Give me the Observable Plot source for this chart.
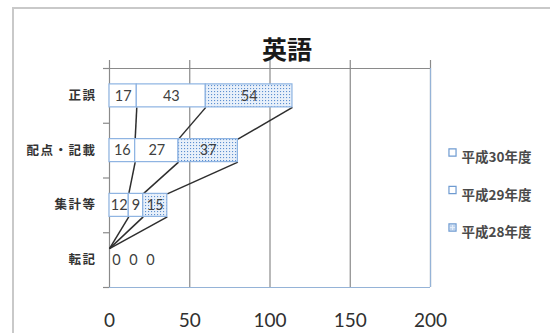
<!DOCTYPE html>
<html>
<head>
<meta charset="utf-8">
<script src="https://cdn.jsdelivr.net/npm/d3@7"></script>
<script src="https://cdn.jsdelivr.net/npm/@observablehq/plot@0.6"></script>
<style>
  body { margin: 0; background: #fff; }
  #wrap { position: relative; width: 550px; height: 333px; overflow: hidden; }
  #border { position: absolute; left: 12px; top: 7px; width: 580px; height: 380px; border: 2px solid #c9c9c9; box-sizing: border-box; }
  #chart { position: absolute; left: 0; top: 0; }
  g[aria-label="y-axis tick label"] text { letter-spacing: 1.5px; }
  g[aria-label="legend label"] text { letter-spacing: 1px; }
</style>
</head>
<body>
<div id="wrap"><div id="border"></div><div id="chart"></div></div>
<script>
// 英語: 誤りの種類別件数（年度別の積み上げ横棒）
const title = "英語";
const categories = ["正誤", "配点・記載", "集計等", "転記"];
const seriesNames = ["平成30年度", "平成29年度", "平成28年度"];
const h30 = [17, 16, 12, 0];
const h29 = [43, 27, 9, 0];
const h28 = [54, 37, 15, 0];
const xTicks = [0, 50, 100, 150, 200];

const seriesValues = [h30, h29, h28];
const half = 0.21; // half bar thickness, in category units

// stacked segments: one row per category × series
const rows = [];
categories.forEach((cat, i) => {
  let x0 = 0;
  seriesValues.forEach((vals, k) => {
    const v = vals[i];
    rows.push({cat, i, k, series: seriesNames[k], value: v, x1: x0, x2: x0 + v});
    x0 += v;
  });
});

// series lines joining each segment end to the same segment in the next category
const seriesLines = [];
seriesNames.forEach((s, k) => {
  for (let i = 0; i < categories.length - 1; i++) {
    const a = rows.find(d => d.i === i && d.k === k);
    const b = rows.find(d => d.i === i + 1 && d.k === k);
    seriesLines.push({x1: a.x2, y1: i + half, x2: b.x2, y2: i + 1 - half});
  }
});

const boundaries = d3.range(-0.5, categories.length, 1);
const numFont = "Lato, 'Open Sans', sans-serif";
const cjkFont = "'Noto Sans CJK JP', sans-serif";
const barStroke = "#8db3e2";

const plot = Plot.plot({
  width: 550,
  height: 333,
  marginLeft: 109,
  marginRight: 120,
  marginTop: 68,
  marginBottom: 46,
  x: {domain: [0, 200], axis: null},
  y: {domain: [categories.length - 0.5, -0.5], axis: null},
  marks: [
    // vertical grid
    Plot.ruleX(xTicks, {stroke: "#8a8a8a", strokeWidth: 1.2, insetTop: -8}),
    // top edge of the plot area
    Plot.ruleY([-0.5], {stroke: "#8a8a8a", strokeWidth: 1.2}),
    // plot area border (right and bottom)
    Plot.ruleX([200], {stroke: "#95b3d7", strokeWidth: 1.2}),
    Plot.ruleY([categories.length - 0.5], {stroke: "#95b3d7", strokeWidth: 1.2}),
    // category tick marks at band boundaries
    Plot.axisY({ticks: boundaries, tickSize: 6, tickFormat: () => "", stroke: "#8a8a8a", strokeWidth: 1.2, label: null}),
    // category labels
    Plot.axisY({ticks: d3.range(categories.length), tickSize: 0, tickPadding: 13, tickFormat: i => categories[i],
      fontSize: 12.5, fontFamily: cjkFont, fontWeight: "bold", color: "#333333", label: null}),
    // value axis labels
    Plot.axisX({ticks: xTicks, tickSize: 0, tickPadding: 26, fontSize: 19, fontFamily: numFont, color: "#303030", label: null}),
    // series lines
    Plot.link(seriesLines, {x1: "x1", y1: "y1", x2: "x2", y2: "y2", stroke: "#2e2e2e", strokeWidth: 1.5}),
    // bars
    Plot.rectX(rows.filter(d => d.k < 2), {x1: "x1", x2: "x2", y1: d => d.i - half, y2: d => d.i + half,
      fill: "white", stroke: barStroke, strokeWidth: 1.2}),
    Plot.rectX(rows.filter(d => d.k === 2), {x1: "x1", x2: "x2", y1: d => d.i - half, y2: d => d.i + half,
      fill: "url(#dots)", stroke: barStroke, strokeWidth: 1.2}),
    // value labels
    Plot.text(rows.filter(d => d.value > 0), {x: d => (d.x1 + d.x2) / 2, y: "i", text: d => String(d.value),
      fontSize: 14.5, fontFamily: numFont, fill: "#404040"}),
    ...seriesNames.map((s, k) =>
      Plot.text(rows.filter(d => d.value === 0 && d.k === k), {x: "x1", y: "i", text: d => String(d.value),
        dx: 7 + 17 * k, fontSize: 14.5, fontFamily: numFont, fill: "#404040"})),
    // title
    Plot.text([title], {frameAnchor: "top", dx: 17, dy: -27, text: d => d, fontSize: 25, fontWeight: "bold",
      fontFamily: cjkFont, fill: "#1a1a1a"}),
    // legend
    ...seriesNames.flatMap((name, k) => [
      Plot.dot([name], {frameAnchor: "top-right", dx: 22, dy: 84 + 37.5 * k, symbol: "square", r: 4,
        fill: k === 2 ? "url(#dots)" : "white", stroke: "#6f9bd1", strokeWidth: 1.2}),
      Plot.text([name], {frameAnchor: "top-right", dx: 31, dy: 84 + 37.5 * k, text: d => d, textAnchor: "start",
        fontSize: 13.5, fontFamily: cjkFont, fontWeight: "bold", fill: "#4a4a4a", ariaLabel: "legend label"})
    ])
  ]
});

// dotted fill used by the 平成28年度 series
const svg = d3.select(plot);
const pat = svg.insert("defs", ":first-child")
  .append("pattern").attr("id", "dots").attr("patternUnits", "userSpaceOnUse")
  .attr("width", 3).attr("height", 3);
pat.append("rect").attr("width", 3).attr("height", 3).attr("fill", "#e8f0fa");
pat.append("rect").attr("x", 1).attr("y", 1).attr("width", 1.1).attr("height", 1.1).attr("fill", "#5d8fd0");

document.getElementById("chart").appendChild(plot);
</script>
</body>
</html>
